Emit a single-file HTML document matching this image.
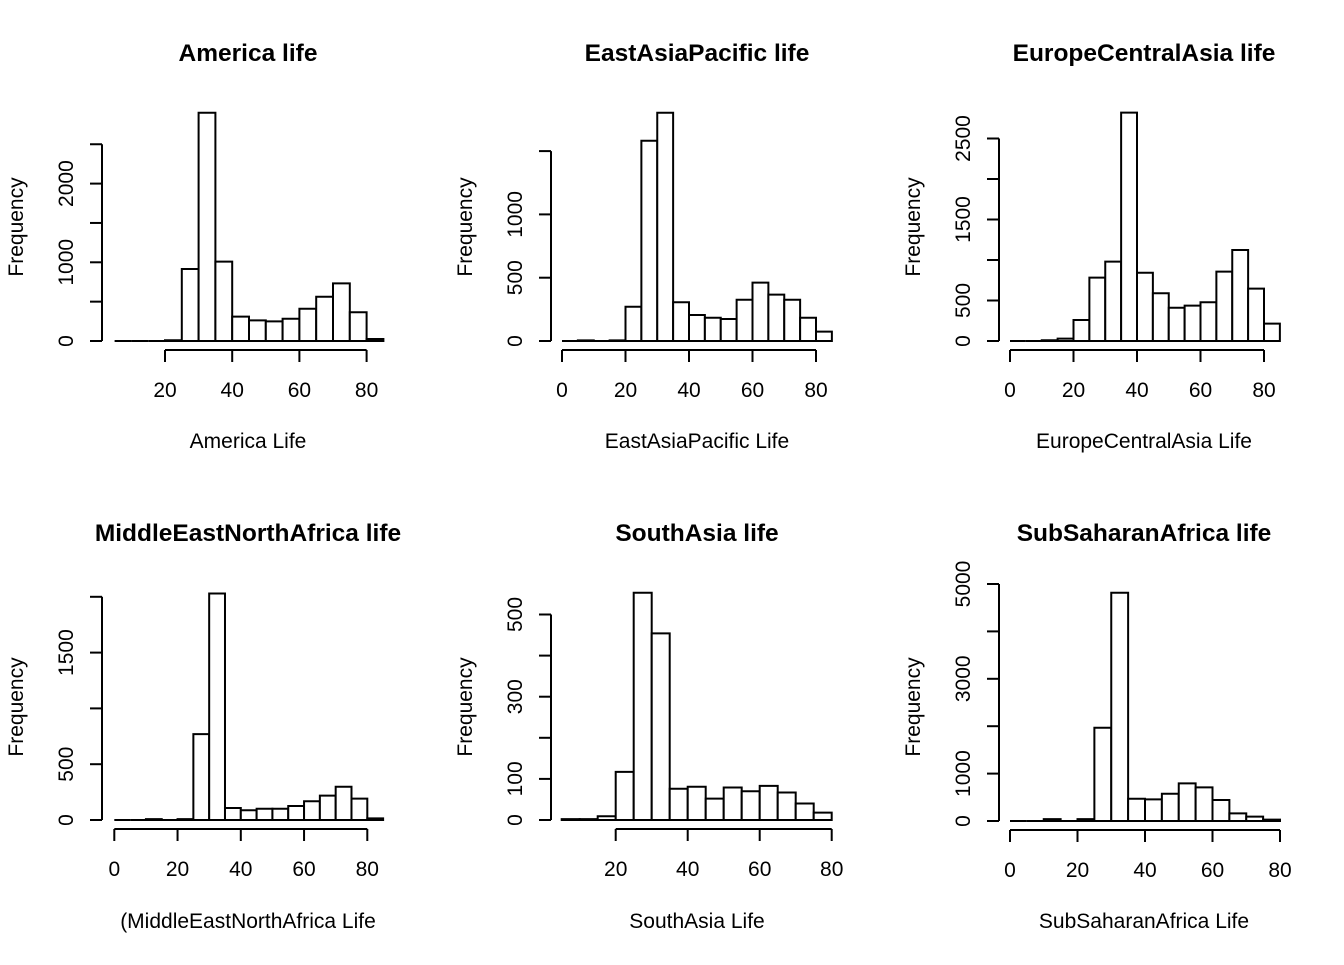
<!DOCTYPE html>
<html><head><meta charset="utf-8">
<style>
body{margin:0;background:#fff;}
svg text{font-family:"Liberation Sans",Arial,sans-serif;fill:#000;}
</style></head>
<body>
<svg id="chart" width="1344" height="960" xmlns="http://www.w3.org/2000/svg"></svg>
<script>
// ---- data ----
const titles = ["America life","EastAsiaPacific life","EuropeCentralAsia life","MiddleEastNorthAfrica life","SouthAsia life","SubSaharanAfrica life"];
const xLabels = ["America Life","EastAsiaPacific Life","EuropeCentralAsia Life","(MiddleEastNorthAfrica Life","SouthAsia Life","SubSaharanAfrica Life"];
const breakStart = [5,0,0,0,5,0];
const binWidth = 5;
const countsAmerica = [0,0,0,10,915,2900,1008,309,262,250,283,410,563,733,365,25];
const countsEastAsia = [0,5,0,5,271,1582,1803,306,205,184,174,326,461,366,326,184,74];
const countsEurope = [0,0,10,30,260,782,980,2820,843,589,411,436,478,856,1123,646,214];
const countsMENA = [0,0,8,0,8,770,2030,107,87,101,101,126,168,218,298,191,15];
const countsSouthAsia = [2,2,9,117,553,454,76,81,52,79,70,83,67,40,18];
const countsSubSaharan = [0,0,40,0,40,1968,4816,470,457,576,795,710,443,162,91,30];
const yTicks1 = [0,500,1000,1500,2000,2500], yLabels1 = ["0","1000","2000"];
const yTicks2 = [0,500,1000,1500], yLabels2 = ["0","500","1000"];
const yTicks3 = [0,500,1000,1500,2000,2500], yLabels3 = ["0","500","1500","2500"];
const yTicks4 = [0,500,1000,1500,2000], yLabels4 = ["0","500","1500"];
const yTicks5 = [0,100,200,300,400,500], yLabels5 = ["0","100","300","500"];
const yTicks6 = [0,1000,2000,3000,4000,5000], yLabels6 = ["0","1000","3000","5000"];
const xTicks1 = [20,40,60,80], xTicks2 = [0,20,40,60,80], xTicks3 = [0,20,40,60,80];
const xTicks4 = [0,20,40,60,80], xTicks5 = [20,40,60,80], xTicks6 = [0,20,40,60,80];

// ---- layout (pixel geometry) ----
const allCounts=[countsAmerica,countsEastAsia,countsEurope,countsMENA,countsSouthAsia,countsSubSaharan];
const allYT=[yTicks1,yTicks2,yTicks3,yTicks4,yTicks5,yTicks6];
const allYL=[yLabels1,yLabels2,yLabels3,yLabels4,yLabels5,yLabels6];
const allXT=[xTicks1,xTicks2,xTicks3,xTicks4,xTicks5,xTicks6];
const geo=[
 {ax:102,y0:341,ppu:0.0787,x0:165-20*3.36,ppx:3.36,cx:248,ty:53,lx:441,fy:227},
 {ax:551,y0:341,ppu:0.1266,x0:562,ppx:3.175,cx:697,ty:53,lx:441,fy:227},
 {ax:999,y0:341,ppu:0.081,x0:1010,ppx:3.175,cx:1144,ty:53,lx:441,fy:227},
 {ax:102,y0:820,ppu:0.1116,x0:114.3,ppx:3.1625,cx:248,ty:533,lx:921,fy:707},
 {ax:551,y0:820,ppu:0.411,x0:615.7-20*3.6,ppx:3.6,cx:697,ty:533,lx:921,fy:707},
 {ax:999,y0:821,ppu:0.0474,x0:1010,ppx:3.375,cx:1144,ty:533,lx:921,fy:707}
];
const NS="http://www.w3.org/2000/svg";
const svg=document.getElementById('chart');
function mk(tag,attrs,parent){const e=document.createElementNS(NS,tag);for(const k in attrs)e.setAttribute(k,attrs[k]);(parent||svg).appendChild(e);return e;}
for(let p=0;p<6;p++){
  const g=geo[p];
  const xs=v=>g.x0+v*g.ppx, ys=v=>g.y0-v*g.ppu;
  const grp=mk('g',{});
  
  
  const t=mk('text',{x:g.cx,y:g.ty+8,'text-anchor':'middle','font-size':'24.5','font-weight':'bold'},grp);
  t.textContent=titles[p];
  
  
  const xl=mk('text',{x:g.cx,y:g.lx+7,'text-anchor':'middle','font-size':'21'},grp);
  xl.textContent=xLabels[p];
  
  
  const yl=mk('text',{x:0,y:0,'text-anchor':'middle','font-size':'21',transform:`translate(${g.ax-79},${g.fy}) rotate(-90)`},grp);
  yl.textContent='Frequency';
  
  
  // bars
  const counts=allCounts[p];
  counts.forEach((c,i)=>{
    const a=breakStart[p]+i*binWidth;
    const x1=xs(a),x2=xs(a+binWidth),y=ys(c);
    const r=mk('path',{d:`M${x1},${g.y0}L${x1},${y}L${x2},${y}L${x2},${g.y0}Z`,fill:'#fff',stroke:'#000','stroke-width':2},grp);
    
    
  });
  // y axis
  const yt=allYT[p];
  const ya=mk('line',{x1:g.ax,x2:g.ax,y1:ys(yt[0]),y2:ys(yt[yt.length-1]),stroke:'#000','stroke-width':2},grp);
  
  
  yt.forEach(v=>{mk('line',{x1:g.ax-12,x2:g.ax,y1:ys(v),y2:ys(v),stroke:'#000','stroke-width':2},grp);});
  allYL[p].forEach(s=>{
    const v=+s;
    const tx=mk('text',{x:0,y:0,'text-anchor':'middle','font-size':'21',transform:`translate(${g.ax-29},${ys(v)}) rotate(-90)`},grp);
    tx.textContent=s;
    
    
  });
  // x axis
  const xt=allXT[p];
  const axy=g.y0+9;
  const xa=mk('line',{x1:xs(xt[0]),x2:xs(xt[xt.length-1]),y1:axy,y2:axy,stroke:'#000','stroke-width':2},grp);
  
  
  xt.forEach(v=>{
    mk('line',{x1:xs(v),x2:xs(v),y1:axy,y2:axy+12,stroke:'#000','stroke-width':2},grp);
    const tx=mk('text',{x:xs(v),y:axy+47,'text-anchor':'middle','font-size':'21'},grp);
    tx.textContent=String(v);
    
    
  });
}
</script>
</body></html>
